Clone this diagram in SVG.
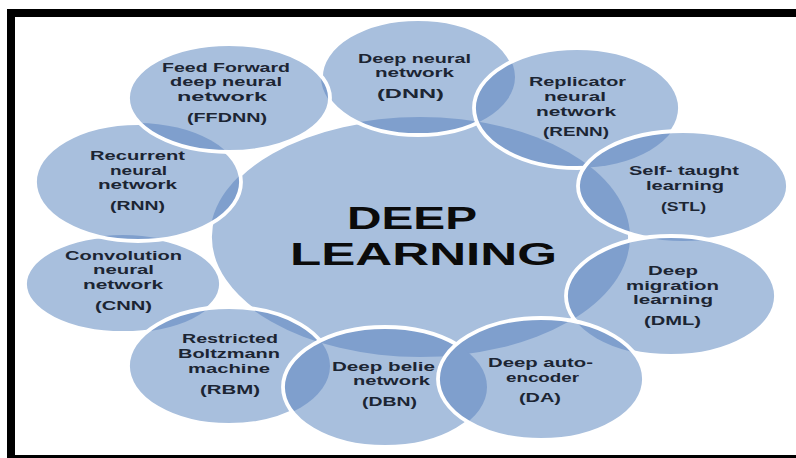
<svg xmlns="http://www.w3.org/2000/svg" width="796" height="458" viewBox="0 0 796 458">
<style>
.base{fill:#a8bfdd;stroke:none}
.lens{fill:#7f9fcd;stroke:none}
.ring{fill:none;stroke:#ffffff;stroke-width:3.8}
.t{font-family:"Liberation Sans",Arial,sans-serif;font-weight:700;font-size:12.5px;fill:#1c2533;text-anchor:middle}
.big{font-family:"Liberation Sans",Arial,sans-serif;font-weight:700;font-size:32px;fill:#0b0b0b;text-anchor:middle}
</style>
<defs>
<clipPath id="c-dnn"><ellipse cx="418" cy="77" rx="97" ry="58"/></clipPath>
<clipPath id="c-renn"><ellipse cx="577" cy="108" rx="103" ry="60"/></clipPath>
<clipPath id="c-stl"><ellipse cx="683" cy="186" rx="105" ry="55"/></clipPath>
<clipPath id="c-dml"><ellipse cx="671" cy="296" rx="105" ry="60"/></clipPath>
<clipPath id="c-rbm"><ellipse cx="229" cy="366" rx="101" ry="59"/></clipPath>
<clipPath id="c-dbn"><ellipse cx="385" cy="387" rx="102" ry="60"/></clipPath>
<clipPath id="c-da"><ellipse cx="541" cy="379" rx="103" ry="61"/></clipPath>
<clipPath id="c-rnn"><ellipse cx="138" cy="182" rx="103" ry="59"/></clipPath>
<clipPath id="c-ffdnn"><ellipse cx="229" cy="98" rx="101" ry="54"/></clipPath>
</defs>
<rect x="0" y="0" width="796" height="458" fill="#ffffff"/>
<g id="frame">
<rect x="7" y="9" width="789" height="8" fill="#000"/>
<rect x="7" y="9" width="8" height="449" fill="#000"/>
<rect x="7" y="455" width="789" height="3" fill="#000"/>
</g>
<g id="connectors"></g>
<g id="center">
<ellipse class="base" cx="420" cy="237" rx="210" ry="120"/>
<ellipse class="ring" cx="420" cy="237" rx="210" ry="120"/>
<text class="big" x="412" y="229" textLength="130" lengthAdjust="spacingAndGlyphs">DEEP</text>
<text class="big" x="423.5" y="265" textLength="267" lengthAdjust="spacingAndGlyphs">LEARNING</text>
</g>
<g id="dnn">
<ellipse class="base" cx="418" cy="77" rx="97" ry="58"/>
<g clip-path="url(#c-dnn)"><ellipse class="lens" cx="420" cy="237" rx="210" ry="120"/></g>
<ellipse class="ring" cx="418" cy="77" rx="97" ry="58"/>
<text class="t" x="414.5" y="63" textLength="113" lengthAdjust="spacingAndGlyphs">Deep neural</text>
<text class="t" x="414.5" y="77" textLength="79" lengthAdjust="spacingAndGlyphs">network</text>
<text class="t" x="410.5" y="98" textLength="67" lengthAdjust="spacingAndGlyphs">(DNN)</text>
</g>
<g id="renn">
<ellipse class="base" cx="577" cy="108" rx="103" ry="60"/>
<g clip-path="url(#c-renn)"><ellipse class="lens" cx="420" cy="237" rx="210" ry="120"/><ellipse class="lens" cx="418" cy="77" rx="97" ry="58"/></g>
<ellipse class="ring" cx="577" cy="108" rx="103" ry="60"/>
<text class="t" x="577.5" y="86" textLength="97" lengthAdjust="spacingAndGlyphs">Replicator</text>
<text class="t" x="575" y="101" textLength="62" lengthAdjust="spacingAndGlyphs">neural</text>
<text class="t" x="576" y="115.5" textLength="80" lengthAdjust="spacingAndGlyphs">network</text>
<text class="t" x="576" y="136" textLength="66" lengthAdjust="spacingAndGlyphs">(RENN)</text>
</g>
<g id="stl">
<ellipse class="base" cx="683" cy="186" rx="105" ry="55"/>
<g clip-path="url(#c-stl)"><ellipse class="lens" cx="420" cy="237" rx="210" ry="120"/><ellipse class="lens" cx="577" cy="108" rx="103" ry="60"/></g>
<ellipse class="ring" cx="683" cy="186" rx="105" ry="55"/>
<text class="t" x="684" y="175" textLength="110" lengthAdjust="spacingAndGlyphs">Self- taught</text>
<text class="t" x="685" y="189.5" textLength="78" lengthAdjust="spacingAndGlyphs">learning</text>
<text class="t" x="683.5" y="211" textLength="45" lengthAdjust="spacingAndGlyphs">(STL)</text>
</g>
<g id="dml">
<ellipse class="base" cx="671" cy="296" rx="105" ry="60"/>
<g clip-path="url(#c-dml)"><ellipse class="lens" cx="420" cy="237" rx="210" ry="120"/><ellipse class="lens" cx="683" cy="186" rx="105" ry="55"/></g>
<ellipse class="ring" cx="671" cy="296" rx="105" ry="60"/>
<text class="t" x="673" y="274.5" textLength="50" lengthAdjust="spacingAndGlyphs">Deep</text>
<text class="t" x="672.5" y="289.5" textLength="93" lengthAdjust="spacingAndGlyphs">migration</text>
<text class="t" x="673" y="304" textLength="80" lengthAdjust="spacingAndGlyphs">learning</text>
<text class="t" x="672.5" y="325" textLength="57" lengthAdjust="spacingAndGlyphs">(DML)</text>
</g>
<g id="cnn">
<ellipse class="base" cx="123" cy="284" rx="98" ry="49"/>
<ellipse class="ring" cx="123" cy="284" rx="98" ry="49"/>
<text class="t" x="123.5" y="259.5" textLength="117" lengthAdjust="spacingAndGlyphs">Convolution</text>
<text class="t" x="123.5" y="274" textLength="61" lengthAdjust="spacingAndGlyphs">neural</text>
<text class="t" x="123" y="289" textLength="80" lengthAdjust="spacingAndGlyphs">network</text>
<text class="t" x="123.5" y="310" textLength="57" lengthAdjust="spacingAndGlyphs">(CNN)</text>
</g>
<g id="rbm">
<ellipse class="base" cx="229" cy="366" rx="101" ry="59"/>
<g clip-path="url(#c-rbm)"><ellipse class="lens" cx="420" cy="237" rx="210" ry="120"/><ellipse class="lens" cx="123" cy="284" rx="98" ry="49"/></g>
<ellipse class="ring" cx="229" cy="366" rx="101" ry="59"/>
<text class="t" x="230" y="343" textLength="96" lengthAdjust="spacingAndGlyphs">Restricted</text>
<text class="t" x="229" y="358" textLength="102" lengthAdjust="spacingAndGlyphs">Boltzmann</text>
<text class="t" x="229" y="373" textLength="82" lengthAdjust="spacingAndGlyphs">machine</text>
<text class="t" x="230" y="394" textLength="60" lengthAdjust="spacingAndGlyphs">(RBM)</text>
</g>
<g id="dbn">
<ellipse class="base" cx="385" cy="387" rx="102" ry="60"/>
<g clip-path="url(#c-dbn)"><ellipse class="lens" cx="420" cy="237" rx="210" ry="120"/><ellipse class="lens" cx="229" cy="366" rx="101" ry="59"/></g>
<ellipse class="ring" cx="385" cy="387" rx="102" ry="60"/>
<text class="t" x="383.5" y="370.5" textLength="103" lengthAdjust="spacingAndGlyphs">Deep belie</text>
<text class="t" x="391.5" y="385" textLength="77" lengthAdjust="spacingAndGlyphs">network</text>
<text class="t" x="389.5" y="406" textLength="55" lengthAdjust="spacingAndGlyphs">(DBN)</text>
</g>
<g id="da">
<ellipse class="base" cx="541" cy="379" rx="103" ry="61"/>
<g clip-path="url(#c-da)"><ellipse class="lens" cx="420" cy="237" rx="210" ry="120"/><ellipse class="lens" cx="385" cy="387" rx="102" ry="60"/><ellipse class="lens" cx="671" cy="296" rx="105" ry="60"/></g>
<ellipse class="ring" cx="541" cy="379" rx="103" ry="61"/>
<text class="t" x="540.5" y="367" textLength="105" lengthAdjust="spacingAndGlyphs">Deep auto-</text>
<text class="t" x="542.5" y="381.5" textLength="73" lengthAdjust="spacingAndGlyphs">encoder</text>
<text class="t" x="540" y="402" textLength="42" lengthAdjust="spacingAndGlyphs">(DA)</text>
</g>
<g id="rnn">
<ellipse class="base" cx="138" cy="182" rx="103" ry="59"/>
<g clip-path="url(#c-rnn)"><ellipse class="lens" cx="420" cy="237" rx="210" ry="120"/><ellipse class="lens" cx="123" cy="284" rx="98" ry="49"/></g>
<ellipse class="ring" cx="138" cy="182" rx="103" ry="59"/>
<text class="t" x="137.5" y="160" textLength="95" lengthAdjust="spacingAndGlyphs">Recurrent</text>
<text class="t" x="138.5" y="174.5" textLength="57" lengthAdjust="spacingAndGlyphs">neural</text>
<text class="t" x="137.5" y="189" textLength="79" lengthAdjust="spacingAndGlyphs">network</text>
<text class="t" x="137.5" y="210" textLength="55" lengthAdjust="spacingAndGlyphs">(RNN)</text>
</g>
<g id="ffdnn">
<ellipse class="base" cx="229" cy="98" rx="101" ry="54"/>
<g clip-path="url(#c-ffdnn)"><ellipse class="lens" cx="418" cy="77" rx="97" ry="58"/><ellipse class="lens" cx="138" cy="182" rx="103" ry="59"/><ellipse class="lens" cx="420" cy="237" rx="210" ry="120"/></g>
<ellipse class="ring" cx="229" cy="98" rx="101" ry="54"/>
<text class="t" x="226" y="71.5" textLength="128" lengthAdjust="spacingAndGlyphs">Feed Forward</text>
<text class="t" x="226" y="86" textLength="112" lengthAdjust="spacingAndGlyphs">deep neural</text>
<text class="t" x="222" y="100.5" textLength="90" lengthAdjust="spacingAndGlyphs">network</text>
<text class="t" x="227" y="121.5" textLength="80" lengthAdjust="spacingAndGlyphs">(FFDNN)</text>
</g>
</svg>
